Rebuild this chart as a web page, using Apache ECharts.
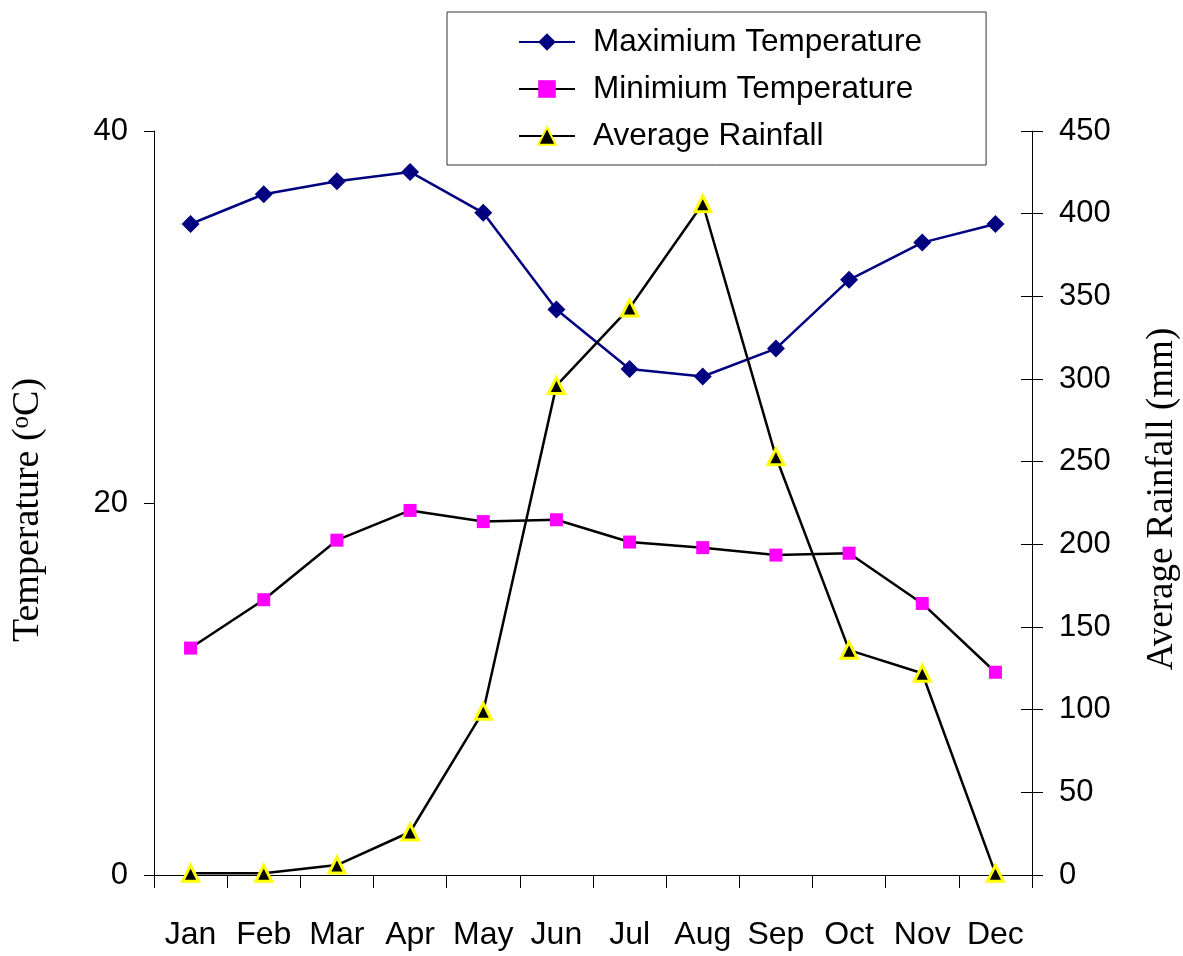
<!DOCTYPE html>
<html><head><meta charset="utf-8">
<script src="https://cdn.jsdelivr.net/npm/echarts@6/dist/echarts.min.js"></script>
<style>html,body{margin:0;padding:0;background:#fff;overflow:hidden}#c{width:1183px;height:956px}</style>
</head><body><div id="c"></div>
<script>
const months = ['Jan','Feb','Mar','Apr','May','Jun','Jul','Aug','Sep','Oct','Nov','Dec'];
const maxTemp = [35.0, 36.6, 37.3, 37.8, 35.6, 30.4, 27.2, 26.8, 28.3, 32.0, 34.0, 35.0];
const minTemp = [12.2, 14.8, 18.0, 19.6, 19.0, 19.1, 17.9, 17.6, 17.2, 17.3, 14.6, 10.9];
const rainfall = [1, 1, 6, 26, 99, 296, 343, 406, 253, 136, 122, 1];
const tempTicks = {min: 0, max: 40, interval: 20};
const rainTicks = {min: 0, max: 450, interval: 50};

const SANS = '"Liberation Sans",Arial,sans-serif';
const SERIF = '"Liberation Serif","Times New Roman",serif';
const chart = echarts.init(document.getElementById('c'), null, {renderer: 'canvas', width: 1183, height: 956});
chart.setOption({
  animation: false,
  backgroundColor: '#fff',
  grid: {left: 154, width: 878, top: 131, height: 744, containLabel: false, outerBoundsMode: 'none'},
  legend: {
    orient: 'vertical', left: 447, top: 12,
    padding: [11, 64, 10, 71],
    borderColor: '#333', borderWidth: 1,
    itemWidth: 56, itemHeight: 22, itemGap: 9,
    textStyle: {fontFamily: SANS, fontSize: 31.5, lineHeight: 38, color: '#000', padding: [0, 0, 0, 13]},
    data: ['Maximium Temperature', 'Minimium Temperature', 'Average Rainfall']
  },
  xAxis: {
    type: 'category', data: months, boundaryGap: true,
    axisLine: {lineStyle: {color: '#000', width: 1}},
    axisTick: {show: true, inside: false, length: 13, interval: 0, lineStyle: {color: '#000'}},
    axisLabel: {fontFamily: SANS, fontSize: 32, color: '#000', margin: 44, interval: 0}
  },
  yAxis: [
    {
      type: 'value', position: 'left', min: tempTicks.min, max: tempTicks.max, interval: tempTicks.interval,
      axisLine: {show: true, lineStyle: {color: '#000'}},
      axisTick: {show: true, inside: false, length: 10, lineStyle: {color: '#000'}},
      splitLine: {show: false},
      axisLabel: {fontFamily: SANS, fontSize: 31, color: '#000', margin: 26},
      name: 'Temperature ({sup|o}C)', nameLocation: 'middle', nameRotate: 90, nameGap: 106,
      nameTextStyle: {fontFamily: SERIF, fontSize: 38, color: '#000', padding: [0, 14, 0, 0],
        rich: {sup: {fontFamily: SERIF, fontSize: 25, verticalAlign: 'top', padding: [0,0,14,0]}}}
    },
    {
      type: 'value', position: 'right', min: rainTicks.min, max: rainTicks.max, interval: rainTicks.interval,
      axisLine: {show: true, lineStyle: {color: '#000'}},
      axisTick: {show: true, inside: false, length: 11, lineStyle: {color: '#000'}},
      splitLine: {show: false},
      axisLabel: {fontFamily: SANS, fontSize: 31, color: '#000', margin: 27},
      name: 'Average Rainfall (mm)', nameLocation: 'middle', nameRotate: 90, nameGap: 112,
      nameTextStyle: {fontFamily: SERIF, fontSize: 37, color: '#000', padding: [0, 0, 0, 8]}
    },
    {
      type: 'value', position: 'right', min: rainTicks.min, max: rainTicks.max, interval: rainTicks.interval,
      axisLine: {show: false},
      axisTick: {show: true, inside: true, length: 11, lineStyle: {color: '#000'}},
      splitLine: {show: false},
      axisLabel: {show: false}
    }
  ],
  series: [
    {
      name: 'Maximium Temperature', type: 'line', yAxisIndex: 0, data: maxTemp,
      symbol: 'diamond', symbolSize: 18,
      lineStyle: {color: '#000080', width: 2.5},
      itemStyle: {color: '#000080', borderWidth: 0}
    },
    {
      name: 'Minimium Temperature', type: 'line', yAxisIndex: 0, data: minTemp,
      symbol: 'rect', symbolSize: 13,
      lineStyle: {color: '#000', width: 2.5},
      itemStyle: {color: '#ff00ff', borderWidth: 0}
    },
    {
      name: 'Average Rainfall', type: 'line', yAxisIndex: 1, data: rainfall,
      symbol: 'triangle', symbolSize: 16,
      lineStyle: {color: '#000', width: 2.5},
      itemStyle: {color: '#000', borderColor: '#ffff00', borderWidth: 3}
    }
  ]
});
</script>
</body></html>
